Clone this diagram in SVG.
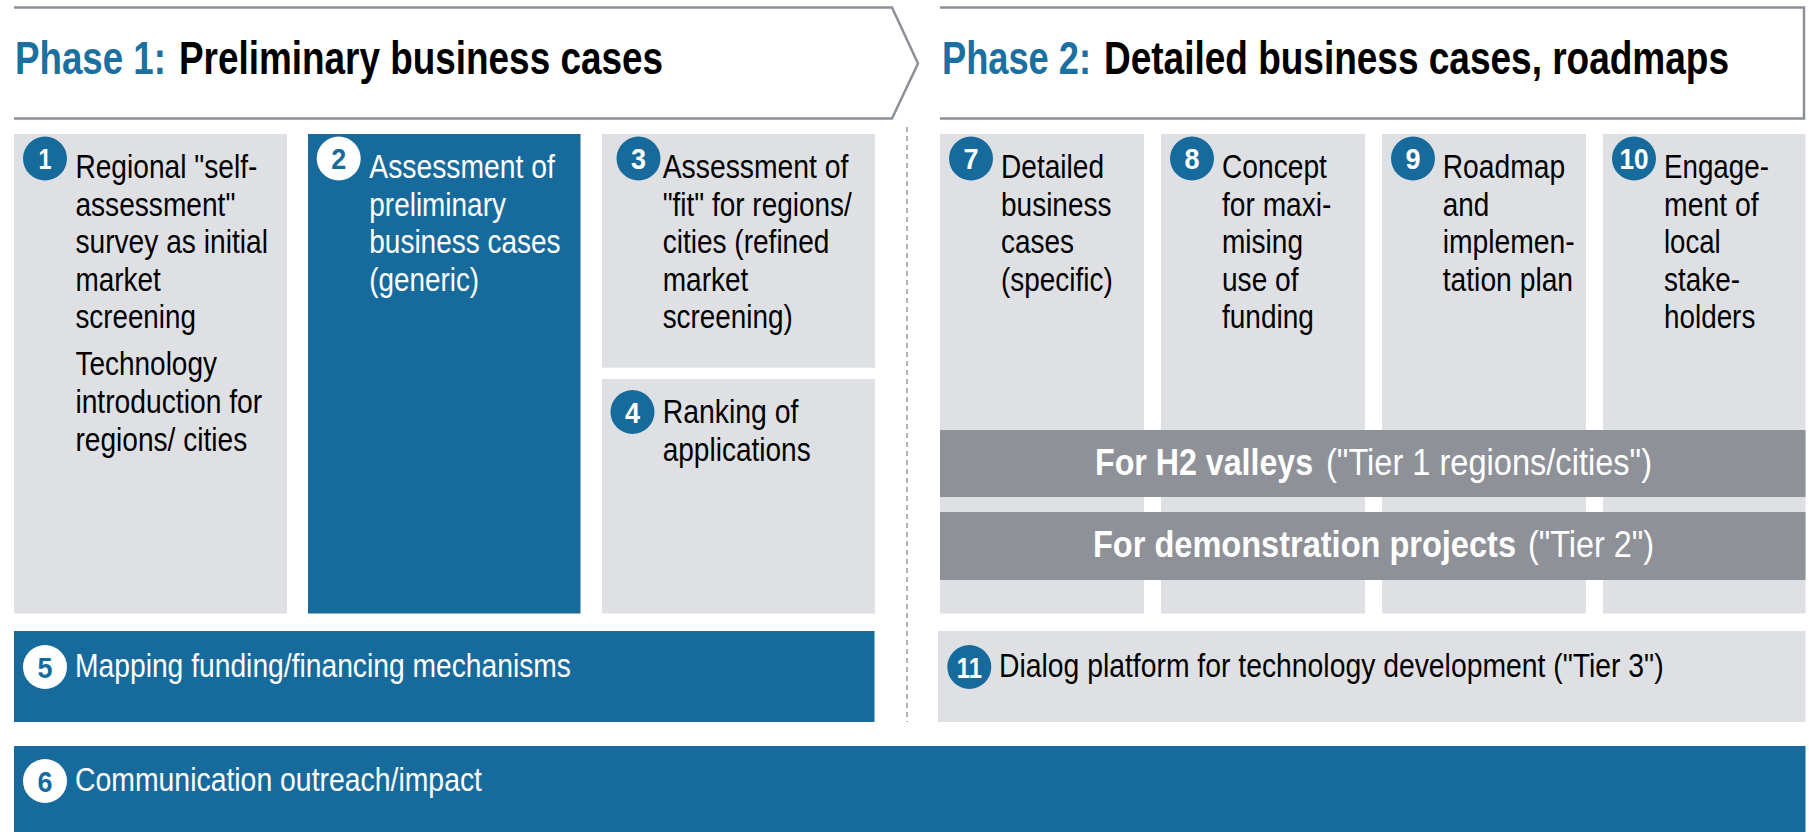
<svg xmlns="http://www.w3.org/2000/svg" width="1809" height="832" viewBox="0 0 1809 832">
<style>
.hdr{fill:none;stroke:#8c9096;stroke-width:2.5}
.bg{fill:#dfe0e4}
.bb{fill:#176b9c}
.band{fill:#8e9198}
.t{font-family:"Liberation Sans Narrow","Liberation Sans",Arial,sans-serif;font-size:34px}
.k{fill:#000}
.w{fill:#fff}
.h{font-family:"Liberation Sans",Arial,sans-serif;font-size:46px;font-weight:bold}
.hb{fill:#1b6fa1}
.bt{font-family:"Liberation Sans",Arial,sans-serif;font-size:37px;fill:#fff}
.bold{font-weight:bold}
.n{font-family:"Liberation Sans Narrow","Liberation Sans",Arial,sans-serif;font-size:30px;font-weight:bold;text-anchor:middle}
.cb{fill:#176b9c}
.cw{fill:#fff}
.nb{fill:#176b9c}
.dash{stroke:#9a9a9a;stroke-width:1.5;stroke-dasharray:5 4;fill:none}
</style>

<g id="phase1">
<path class="hdr" d="M14,7.5 H892 L918,63.5 L892,118.5 H14"/>
<text class="h hb" transform="translate(15,74) scale(0.8,1)" textLength="188.75" lengthAdjust="spacingAndGlyphs">Phase 1:</text>
<text class="h k" transform="translate(179,74) scale(0.8,1)" textLength="605" lengthAdjust="spacingAndGlyphs">Preliminary business cases</text>
</g>
<g id="phase2">
<path class="hdr" d="M940,7.5 H1804 V118.5 H940"/>
<text class="h hb" transform="translate(942,74) scale(0.8,1)" textLength="186.25" lengthAdjust="spacingAndGlyphs">Phase 2:</text>
<text class="h k" transform="translate(1104,74) scale(0.8,1)" textLength="781.25" lengthAdjust="spacingAndGlyphs">Detailed business cases, roadmaps</text>
</g>

<g id="connectors">
<line class="dash" x1="907" y1="127" x2="907" y2="722"/>
</g>

<g id="node1">
<rect class="bg" x="14" y="134" width="273" height="479.5"/>
<circle class="cb" cx="45" cy="158.5" r="22"/>
<text class="n w" x="45" y="169" textLength="13" lengthAdjust="spacingAndGlyphs">1</text>
<text class="t k" x="75.4" y="178" textLength="182" lengthAdjust="spacingAndGlyphs">Regional "self-</text>
<text class="t k" x="75.4" y="215.5" textLength="160" lengthAdjust="spacingAndGlyphs">assessment"</text>
<text class="t k" x="75.4" y="253" textLength="192.5" lengthAdjust="spacingAndGlyphs">survey as initial</text>
<text class="t k" x="75.4" y="290.5" textLength="85.5" lengthAdjust="spacingAndGlyphs">market</text>
<text class="t k" x="75.4" y="328" textLength="120.5" lengthAdjust="spacingAndGlyphs">screening</text>
<text class="t k" x="75.4" y="375" textLength="141.6" lengthAdjust="spacingAndGlyphs">Technology</text>
<text class="t k" x="75.4" y="413" textLength="186.8" lengthAdjust="spacingAndGlyphs">introduction for</text>
<text class="t k" x="75.4" y="451" textLength="171.8" lengthAdjust="spacingAndGlyphs">regions/ cities</text>
</g>

<g id="node2">
<rect class="bb" x="308" y="134" width="272.5" height="479.5"/>
<circle class="cw" cx="338.7" cy="158.5" r="22"/>
<text class="n nb" x="338.7" y="169" textLength="15" lengthAdjust="spacingAndGlyphs">2</text>
<text class="t w" x="369.3" y="178" textLength="185.6" lengthAdjust="spacingAndGlyphs">Assessment of</text>
<text class="t w" x="369.3" y="215.5" textLength="136.6" lengthAdjust="spacingAndGlyphs">preliminary</text>
<text class="t w" x="369.3" y="253" textLength="191.3" lengthAdjust="spacingAndGlyphs">business cases</text>
<text class="t w" x="369.3" y="290.5" textLength="109.8" lengthAdjust="spacingAndGlyphs">(generic)</text>
</g>

<g id="node3">
<rect class="bg" x="602" y="134" width="273" height="233.7"/>
<circle class="cb" cx="638.5" cy="158.5" r="22"/>
<text class="n w" x="638.5" y="169" textLength="15" lengthAdjust="spacingAndGlyphs">3</text>
<text class="t k" x="662.7" y="178" textLength="185.7" lengthAdjust="spacingAndGlyphs">Assessment of</text>
<text class="t k" x="662.7" y="215.5" textLength="189" lengthAdjust="spacingAndGlyphs">"fit" for regions/</text>
<text class="t k" x="662.7" y="253" textLength="166.7" lengthAdjust="spacingAndGlyphs">cities (refined</text>
<text class="t k" x="662.7" y="290.5" textLength="85.7" lengthAdjust="spacingAndGlyphs">market</text>
<text class="t k" x="662.7" y="328" textLength="130" lengthAdjust="spacingAndGlyphs">screening)</text>
</g>

<g id="node4">
<rect class="bg" x="602" y="379" width="273" height="234.5"/>
<circle class="cb" cx="632.5" cy="412" r="22"/>
<text class="n w" x="632.5" y="422.5" textLength="15" lengthAdjust="spacingAndGlyphs">4</text>
<text class="t k" x="662.7" y="423.3" textLength="135.7" lengthAdjust="spacingAndGlyphs">Ranking of</text>
<text class="t k" x="662.7" y="460.7" textLength="148" lengthAdjust="spacingAndGlyphs">applications</text>
</g>

<g id="node5">
<rect class="bb" x="14" y="631" width="860.5" height="91"/>
<circle class="cw" cx="45" cy="667" r="22"/>
<text class="n nb" x="45" y="677.5" textLength="15" lengthAdjust="spacingAndGlyphs">5</text>
<text class="t w" x="75" y="676.7" textLength="496" lengthAdjust="spacingAndGlyphs">Mapping funding/financing mechanisms</text>
</g>

<g id="node6">
<rect class="bb" x="14" y="746" width="1791.5" height="86"/>
<circle class="cw" cx="45" cy="781" r="22"/>
<text class="n nb" x="45" y="791.5" textLength="15" lengthAdjust="spacingAndGlyphs">6</text>
<text class="t w" x="75" y="790.5" textLength="407" lengthAdjust="spacingAndGlyphs">Communication outreach/impact</text>
</g>

<g id="node7">
<rect class="bg" x="940" y="134" width="204" height="479.5"/>
<circle class="cb" cx="971" cy="158.5" r="22"/>
<text class="n w" x="971" y="169" textLength="15" lengthAdjust="spacingAndGlyphs">7</text>
<text class="t k" x="1001" y="178" textLength="103" lengthAdjust="spacingAndGlyphs">Detailed</text>
<text class="t k" x="1001" y="215.5" textLength="110.5" lengthAdjust="spacingAndGlyphs">business</text>
<text class="t k" x="1001" y="253" textLength="73" lengthAdjust="spacingAndGlyphs">cases</text>
<text class="t k" x="1001" y="290.5" textLength="111.7" lengthAdjust="spacingAndGlyphs">(specific)</text>
</g>

<g id="node8">
<rect class="bg" x="1161" y="134" width="204" height="479.5"/>
<circle class="cb" cx="1192" cy="158.5" r="22"/>
<text class="n w" x="1192" y="169" textLength="15" lengthAdjust="spacingAndGlyphs">8</text>
<text class="t k" x="1222" y="178" textLength="104.9" lengthAdjust="spacingAndGlyphs">Concept</text>
<text class="t k" x="1222" y="215.5" textLength="109.4" lengthAdjust="spacingAndGlyphs">for maxi-</text>
<text class="t k" x="1222" y="253" textLength="81" lengthAdjust="spacingAndGlyphs">mising</text>
<text class="t k" x="1222" y="290.5" textLength="76.5" lengthAdjust="spacingAndGlyphs">use of</text>
<text class="t k" x="1222" y="328" textLength="91.8" lengthAdjust="spacingAndGlyphs">funding</text>
</g>

<g id="node9">
<rect class="bg" x="1382" y="134" width="204" height="479.5"/>
<circle class="cb" cx="1413" cy="158.5" r="22"/>
<text class="n w" x="1413" y="169" textLength="15" lengthAdjust="spacingAndGlyphs">9</text>
<text class="t k" x="1442.7" y="178" textLength="122.4" lengthAdjust="spacingAndGlyphs">Roadmap</text>
<text class="t k" x="1442.7" y="215.5" textLength="46.5" lengthAdjust="spacingAndGlyphs">and</text>
<text class="t k" x="1442.7" y="253" textLength="132" lengthAdjust="spacingAndGlyphs">implemen-</text>
<text class="t k" x="1442.7" y="290.5" textLength="130.4" lengthAdjust="spacingAndGlyphs">tation plan</text>
</g>

<g id="node10">
<rect class="bg" x="1603" y="134" width="202.5" height="479.5"/>
<circle class="cb" cx="1634" cy="158.5" r="22"/>
<text class="n w" x="1634" y="169" textLength="29" lengthAdjust="spacingAndGlyphs">10</text>
<text class="t k" x="1664" y="178" textLength="104.9" lengthAdjust="spacingAndGlyphs">Engage-</text>
<text class="t k" x="1664" y="215.5" textLength="94.7" lengthAdjust="spacingAndGlyphs">ment of</text>
<text class="t k" x="1664" y="253" textLength="56.7" lengthAdjust="spacingAndGlyphs">local</text>
<text class="t k" x="1664" y="290.5" textLength="76" lengthAdjust="spacingAndGlyphs">stake-</text>
<text class="t k" x="1664" y="328" textLength="91.3" lengthAdjust="spacingAndGlyphs">holders</text>
</g>

<g id="band-tier1">
<rect class="band" x="940" y="430" width="865.5" height="67"/>
<text class="bt bold" transform="translate(1095,475) scale(0.87,1)" textLength="250.6" lengthAdjust="spacingAndGlyphs">For H2 valleys</text>
<text class="bt" transform="translate(1326,475) scale(0.87,1)" textLength="374.7" lengthAdjust="spacingAndGlyphs">("Tier 1 regions/cities")</text>
</g>

<g id="band-tier2">
<rect class="band" x="940" y="512" width="865.5" height="68"/>
<text class="bt bold" transform="translate(1093,557) scale(0.87,1)" textLength="486.2" lengthAdjust="spacingAndGlyphs">For demonstration projects</text>
<text class="bt" transform="translate(1528,557) scale(0.87,1)" textLength="144.8" lengthAdjust="spacingAndGlyphs">("Tier 2")</text>
</g>

<g id="node11">
<rect class="bg" x="938" y="631" width="867.5" height="91"/>
<circle class="cb" cx="969.3" cy="667" r="22"/>
<text class="n w" x="969.3" y="677.5" textLength="25" lengthAdjust="spacingAndGlyphs">11</text>
<text class="t k" x="999" y="676.7" textLength="664.6" lengthAdjust="spacingAndGlyphs">Dialog platform for technology development ("Tier 3")</text>
</g>
</svg>
